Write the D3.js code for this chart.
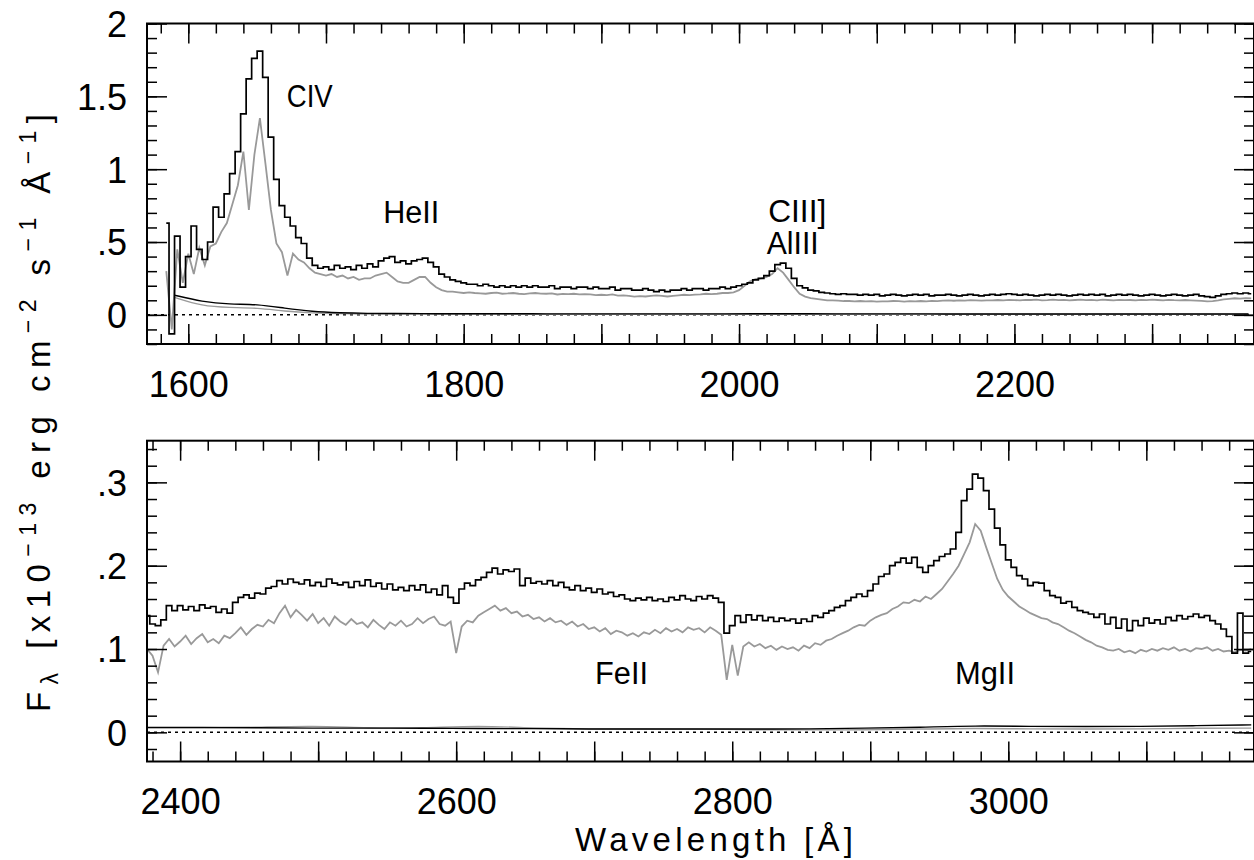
<!DOCTYPE html>
<html>
<head>
<meta charset="utf-8">
<script src="https://cdn.jsdelivr.net/npm/d3@7"></script>
<style>
  body { margin: 0; background: #fff; }
  svg { display: block; }
</style>
</head>
<body>
<svg id="chart" width="1254" height="860"></svg>
<script>
// spectra, flux in 1e-13 erg cm^-2 s^-1 A^-1, sampled every 4 A
const topStart = 1584, topStep = 4
const topBlack = [
  0.63, -0.13, 0.54, 0.19, 0.40, 0.61, 0.45, 0.38, 0.50, 0.74, 0.67, 0.83, 0.97, 1.12, 1.38, 1.62, 1.76, 1.81, 1.63, 1.22, 0.93, 0.75, 0.67, 0.61, 0.53,
  0.49, 0.39, 0.34, 0.32, 0.33, 0.31, 0.34, 0.32, 0.33, 0.31, 0.34, 0.32, 0.35, 0.33, 0.37, 0.39, 0.40, 0.36, 0.37, 0.35, 0.37, 0.38, 0.39, 0.36, 0.33,
  0.28, 0.26, 0.24, 0.23, 0.22, 0.21, 0.21, 0.20, 0.21, 0.20, 0.19, 0.20, 0.19, 0.20, 0.19, 0.20, 0.19, 0.20, 0.19, 0.19, 0.20, 0.18, 0.19, 0.19, 0.18,
  0.19, 0.19, 0.18, 0.19, 0.18, 0.18, 0.19, 0.17, 0.18, 0.18, 0.17, 0.17, 0.18, 0.17, 0.16, 0.17, 0.16, 0.17, 0.17, 0.18, 0.17, 0.18, 0.18, 0.17, 0.18,
  0.18, 0.19, 0.18, 0.19, 0.20, 0.21, 0.22, 0.24, 0.25, 0.27, 0.30, 0.345, 0.355, 0.32, 0.25, 0.20, 0.185, 0.17, 0.165, 0.155, 0.15, 0.145, 0.14, 0.145, 0.14,
  0.14, 0.135, 0.14, 0.135, 0.14, 0.13, 0.135, 0.14, 0.135, 0.13, 0.135, 0.14, 0.135, 0.14, 0.13, 0.135, 0.135, 0.14, 0.135, 0.13, 0.135, 0.14, 0.135, 0.13, 0.135,
  0.14, 0.135, 0.14, 0.145, 0.14, 0.135, 0.14, 0.135, 0.13, 0.135, 0.14, 0.135, 0.14, 0.135, 0.13, 0.135, 0.14, 0.135, 0.14, 0.135, 0.14, 0.13, 0.135, 0.14, 0.135,
  0.14, 0.135, 0.13, 0.135, 0.14, 0.135, 0.13, 0.135, 0.14, 0.135, 0.13, 0.135, 0.14, 0.13, 0.125, 0.12, 0.13, 0.14, 0.145, 0.15, 0.145, 0.15, 0.145
]
const topGrey = [
  0.30, -0.10, 0.45, 0.22, 0.42, 0.28, 0.46, 0.34, 0.47, 0.49, 0.57, 0.63, 0.76, 0.89, 1.12, 0.72, 1.10, 1.35, 1.04, 0.72, 0.49, 0.43, 0.27, 0.42, 0.38,
  0.36, 0.32, 0.29, 0.28, 0.27, 0.28, 0.26, 0.27, 0.25, 0.26, 0.24, 0.25, 0.25, 0.27, 0.28, 0.29, 0.26, 0.23, 0.22, 0.22, 0.24, 0.26, 0.26, 0.22, 0.19,
  0.17, 0.16, 0.16, 0.155, 0.15, 0.155, 0.15, 0.148, 0.145, 0.15, 0.152, 0.145, 0.147, 0.15, 0.145, 0.143, 0.147, 0.15, 0.146, 0.145, 0.148, 0.14, 0.144, 0.142, 0.145,
  0.14, 0.143, 0.141, 0.135, 0.138, 0.136, 0.14, 0.132, 0.134, 0.13, 0.125, 0.128, 0.126, 0.13, 0.134, 0.13, 0.126, 0.13, 0.134, 0.138, 0.135, 0.139, 0.141, 0.145, 0.142,
  0.145, 0.15, 0.15, 0.155, 0.17, 0.20, 0.23, 0.245, 0.25, 0.26, 0.28, 0.32, 0.29, 0.24, 0.19, 0.145, 0.125, 0.115, 0.11, 0.105, 0.10, 0.10, 0.098, 0.095, 0.095,
  0.093, 0.095, 0.092, 0.094, 0.091, 0.093, 0.092, 0.095, 0.094, 0.091, 0.094, 0.092, 0.095, 0.093, 0.096, 0.094, 0.098, 0.1, 0.097, 0.099, 0.098, 0.101, 0.1, 0.098, 0.1,
  0.1, 0.102, 0.1, 0.103, 0.101, 0.1, 0.103, 0.102, 0.104, 0.1, 0.101, 0.104, 0.101, 0.103, 0.1, 0.102, 0.104, 0.101, 0.103, 0.1, 0.104, 0.102, 0.1, 0.103, 0.101,
  0.102, 0.1, 0.103, 0.101, 0.104, 0.102, 0.1, 0.103, 0.101, 0.1, 0.102, 0.1, 0.098, 0.096, 0.092, 0.095, 0.1, 0.106, 0.11, 0.114, 0.112, 0.115, 0.113
]
// error spectra, every 20 A
const topErrStart = 1590, topErrStep = 20
const topErrBlack = [0.135, 0.09, 0.072, 0.074, 0.045, 0.022, 0.014, 0.01, 0.009, 0.008, 0.008, 0.008, 0.008, 0.007, 0.007, 0.007, 0.007, 0.007, 0.007, 0.007,
  0.007, 0.007, 0.008, 0.007, 0.007, 0.007, 0.007, 0.007, 0.006, 0.006, 0.006, 0.006, 0.006, 0.006, 0.006, 0.006, 0.006, 0.006, 0.006, 0.006]
const topErrGrey = [0.12, 0.06, 0.05, 0.048, 0.025, 0.012, 0.008, 0.006, 0.005, 0.005, 0.005, 0.005, 0.005, 0.004, 0.004, 0.004, 0.004, 0.004, 0.004, 0.004,
  0.004, 0.004, 0.005, 0.004, 0.004, 0.004, 0.004, 0.004, 0.004, 0.004, 0.004, 0.004, 0.004, 0.004, 0.004, 0.004, 0.004, 0.004, 0.004, 0.004]

const botStart = 2376, botStep = 4
const botBlack = [
  0.14, 0.13, 0.128, 0.135, 0.152, 0.146, 0.152, 0.147, 0.151, 0.146, 0.153, 0.149, 0.151, 0.144, 0.148, 0.143, 0.156, 0.162, 0.165, 0.161, 0.167, 0.166, 0.173, 0.175, 0.182,
  0.178, 0.184, 0.18, 0.178, 0.183, 0.176, 0.18, 0.175, 0.184, 0.179, 0.177, 0.18, 0.174, 0.181, 0.176, 0.183, 0.175, 0.179, 0.172, 0.178, 0.171, 0.174, 0.17, 0.176, 0.171,
  0.177, 0.168, 0.172, 0.165, 0.176, 0.162, 0.155, 0.172, 0.179, 0.176, 0.183, 0.186, 0.192, 0.197, 0.19, 0.195, 0.193, 0.196, 0.176, 0.185, 0.179, 0.181, 0.178, 0.182, 0.176,
  0.18, 0.174, 0.171, 0.176, 0.17, 0.173, 0.168, 0.172, 0.166, 0.168, 0.163, 0.165, 0.16, 0.158, 0.161, 0.159, 0.162, 0.158, 0.16, 0.157, 0.162, 0.159, 0.164, 0.16, 0.158,
  0.163, 0.16, 0.164, 0.161, 0.156, 0.119, 0.128, 0.14, 0.132, 0.141, 0.135, 0.14, 0.134, 0.138, 0.133, 0.137, 0.134, 0.136, 0.131, 0.136, 0.133, 0.14, 0.138, 0.143, 0.146,
  0.15, 0.152, 0.158, 0.162, 0.166, 0.163, 0.17, 0.178, 0.187, 0.19, 0.2, 0.204, 0.209, 0.203, 0.21, 0.198, 0.192, 0.2, 0.206, 0.211, 0.214, 0.22, 0.24, 0.278, 0.292,
  0.31, 0.305, 0.29, 0.268, 0.245, 0.225, 0.207, 0.198, 0.188, 0.184, 0.176, 0.18, 0.179, 0.17, 0.164, 0.162, 0.155, 0.157, 0.15, 0.146, 0.144, 0.142, 0.138, 0.142, 0.13,
  0.138, 0.125, 0.136, 0.122, 0.134, 0.128, 0.137, 0.131, 0.135, 0.13, 0.138, 0.134, 0.14, 0.136, 0.139, 0.142, 0.138, 0.14, 0.134, 0.13, 0.124, 0.115, 0.095, 0.143, 0.095, 0.097
]
const botGrey = [
  0.1, 0.092, 0.072, 0.104, 0.112, 0.103, 0.109, 0.116, 0.106, 0.113, 0.118, 0.108, 0.112, 0.107, 0.116, 0.113, 0.119, 0.126, 0.117, 0.124, 0.129, 0.127, 0.135, 0.131, 0.143,
  0.152, 0.138, 0.147, 0.141, 0.134, 0.142, 0.131, 0.137, 0.128, 0.139, 0.133, 0.129, 0.136, 0.13, 0.132, 0.126, 0.135, 0.129, 0.124, 0.132, 0.128, 0.134, 0.127, 0.13, 0.137,
  0.131, 0.136, 0.139, 0.13, 0.128, 0.133, 0.095, 0.127, 0.134, 0.132, 0.14, 0.144, 0.148, 0.152, 0.146, 0.149, 0.143, 0.145, 0.139, 0.141, 0.136, 0.138, 0.133, 0.137, 0.132,
  0.134, 0.129, 0.133, 0.127, 0.13, 0.124, 0.126, 0.121, 0.125, 0.118, 0.122, 0.12, 0.116, 0.119, 0.115, 0.12, 0.118, 0.123, 0.119, 0.125, 0.121, 0.124, 0.12, 0.126, 0.123,
  0.125, 0.12, 0.126, 0.122, 0.117, 0.063, 0.105, 0.068, 0.103, 0.108, 0.103, 0.106, 0.101, 0.104, 0.099, 0.103, 0.1, 0.102, 0.098, 0.104, 0.101, 0.107, 0.105, 0.11, 0.112,
  0.116, 0.119, 0.122, 0.126, 0.129, 0.128, 0.134, 0.138, 0.141, 0.143, 0.148, 0.151, 0.156, 0.155, 0.159, 0.157, 0.163, 0.16, 0.166, 0.172, 0.181, 0.19, 0.2, 0.214, 0.228,
  0.25, 0.242, 0.222, 0.203, 0.184, 0.171, 0.163, 0.157, 0.151, 0.147, 0.143, 0.14, 0.137, 0.136, 0.132, 0.13, 0.126, 0.122, 0.119, 0.115, 0.111, 0.108, 0.104, 0.102, 0.099,
  0.098, 0.1, 0.096, 0.098, 0.095, 0.099, 0.097, 0.1, 0.098, 0.101, 0.099, 0.102, 0.098, 0.1, 0.097, 0.101, 0.1, 0.102, 0.098, 0.1, 0.097, 0.098, 0.096, 0.099, 0.098, 0.1
]
const botErrStart = 2376, botErrStep = 40
const botErrBlack = [0.006, 0.006, 0.0055, 0.005, 0.005, 0.005, 0.0045, 0.0045, 0.004, 0.004, 0.004, 0.004, 0.004, 0.005, 0.006, 0.008, 0.007, 0.007, 0.007, 0.008, 0.009]
const botErrGrey = [0.005, 0.005, 0.006, 0.008, 0.005, 0.005, 0.008, 0.005, 0.004, 0.004, 0.004, 0.003, 0.003, 0.003, 0.004, 0.005, 0.004, 0.004, 0.004, 0.005, 0.005]

// line identifications: [label, wavelength, flux, text width]
const topLines = [['CIV', 1671.5, 1.425, 46], ['HeII', 1741.6, 0.629, 56], ['CIII]', 2021.2, 0.636, 58], ['AlIII', 2020.1, 0.42, 52]]
const botLines = [['FeII', 2700.6, 0.058, 53], ['MgII', 2961.4, 0.058, 60]]

const topXTicks = [1600, 1800, 2000, 2200]
const botXTicks = [2400, 2600, 2800, 3000]
const topYTicks = [0, 0.5, 1, 1.5, 2]
const botYTicks = [0, 0.1, 0.2, 0.3]

const svg = d3.select('#chart')
const plotLeft = 147, plotRight = 1254
const tickFont = 'Liberation Sans, Arial, sans-serif'
const yFmt = d => d === 0 ? '0' : String(+d.toFixed(2)).replace(/^0\./, '.')

function panel(p) {
  const x = d3.scaleLinear().domain(p.xDomain).range([plotLeft, plotRight])
  const y = d3.scaleLinear().domain(p.yDomain).range([p.bottom, p.top])
  const g = svg.append('g')

  svg.append('clipPath').attr('id', 'clip-' + p.id)
    .append('rect')
    .attr('x', plotLeft).attr('y', p.top)
    .attr('width', plotRight - plotLeft).attr('height', p.bottom - p.top)
  const plot = g.append('g').attr('clip-path', `url(#clip-${p.id})`)

  plot.append('line')
    .attr('x1', plotLeft).attr('x2', plotRight)
    .attr('y1', y(0)).attr('y2', y(0))
    .attr('stroke', '#000').attr('stroke-width', 1.5)
    .attr('stroke-dasharray', '3,4')

  const line = (start, step, curve) => d3.line()
    .x((d, i) => x(start + i * step))
    .y(d => y(d))
    .curve(curve)

  const series = [
    [p.errGrey, p.errStart, p.errStep, '#9a9a9a', 1.4, d3.curveBasis],
    [p.errBlack, p.errStart, p.errStep, '#000', 1.4, d3.curveBasis],
    [p.grey, p.start, p.step, '#999', 1.8, d3.curveLinear],
    [p.black, p.start, p.step, '#000', 1.7, d3.curveStep]
  ]
  series.forEach(([vals, start, step, color, w, curve]) => {
    plot.append('path')
      .attr('d', line(start, step, curve)(vals))
      .attr('fill', 'none')
      .attr('stroke', color)
      .attr('stroke-width', w)
      .attr('stroke-linejoin', 'miter')
  })

  // axes: minor and major ticks on all four sides
  const xMinor = d3.range(Math.ceil(p.xDomain[0] / 20), Math.floor(p.xDomain[1] / 20) + 1).map(i => i * 20)
  const xMajor = xMinor.filter(v => v % 100 === 0)
  const yMinor = d3.range(Math.ceil(p.yDomain[0] / p.yMinorStep - 1e-6), Math.floor(p.yDomain[1] / p.yMinorStep + 1e-6) + 1)
    .map(i => +(i * p.yMinorStep).toFixed(3))
  const yMajor = yMinor.filter(v => Math.abs(v / p.yMajorStep - Math.round(v / p.yMajorStep)) < 1e-6)

  const axes = [
    [d3.axisBottom(x).tickValues(xMinor).tickSize(-10), p.bottom, 'y'],
    [d3.axisBottom(x).tickValues(xMajor).tickSize(-20), p.bottom, 'y'],
    [d3.axisTop(x).tickValues(xMinor).tickSize(-10), p.top, 'y'],
    [d3.axisTop(x).tickValues(xMajor).tickSize(-20), p.top, 'y'],
    [d3.axisLeft(y).tickValues(yMinor).tickSize(-10), plotLeft, 'x'],
    [d3.axisLeft(y).tickValues(yMajor).tickSize(-20), plotLeft, 'x'],
    [d3.axisRight(y).tickValues(yMinor).tickSize(-10), plotRight, 'x'],
    [d3.axisRight(y).tickValues(yMajor).tickSize(-20), plotRight, 'x']
  ]
  axes.forEach(([ax, pos, dim]) => {
    const a = g.append('g')
      .attr('transform', dim === 'y' ? `translate(0,${pos})` : `translate(${pos},0)`)
      .call(ax.tickSizeOuter(0).tickFormat(''))
    a.select('.domain').remove()
    a.selectAll('line').attr('stroke', '#000').attr('stroke-width', 1.5)
  })

  // tick labels
  g.append('g')
    .attr('transform', `translate(0,${p.bottom})`)
    .call(d3.axisBottom(x).tickValues(p.xLabels).tickSize(0).tickPadding(27).tickFormat(d3.format('d')))
    .call(a => a.select('.domain').remove())
    .selectAll('text')
    .attr('font-family', tickFont).attr('font-size', 36).attr('fill', '#000')

  g.append('g')
    .attr('transform', `translate(${plotLeft},0)`)
    .call(d3.axisLeft(y).tickValues(p.yLabels).tickSize(0).tickPadding(20).tickFormat(yFmt))
    .call(a => a.select('.domain').remove())
    .selectAll('text')
    .attr('font-family', tickFont).attr('font-size', 36).attr('fill', '#000')
    .attr('dy', '0.36em')

  g.append('rect')
    .attr('x', plotLeft).attr('y', p.top)
    .attr('width', plotRight - plotLeft).attr('height', p.bottom - p.top)
    .attr('fill', 'none').attr('stroke', '#000').attr('stroke-width', 2)

  g.selectAll('text.ident')
    .data(p.idents)
    .enter().append('text')
    .attr('class', 'ident')
    .attr('x', d => x(d[1]))
    .attr('y', d => y(d[2]))
    .attr('textLength', d => d[3])
    .attr('lengthAdjust', 'spacingAndGlyphs')
    .attr('font-family', tickFont)
    .attr('font-size', 31)
    .attr('fill', '#000')
    .text(d => d[0])
}

panel({
  id: 'top', xDomain: [1570, 2374], yDomain: [-0.2, 2], top: 23.5, bottom: 344,
  yMinorStep: 0.1, yMajorStep: 0.5,
  start: topStart, step: topStep, black: topBlack, grey: topGrey,
  errStart: topErrStart, errStep: topErrStep, errBlack: topErrBlack, errGrey: topErrGrey,
  xLabels: topXTicks, yLabels: topYTicks, idents: topLines
})
panel({
  id: 'bot', xDomain: [2376, 3178], yDomain: [-0.035, 0.35], top: 440.7, bottom: 761.5,
  yMinorStep: 0.02, yMajorStep: 0.1,
  start: botStart, step: botStep, black: botBlack, grey: botGrey,
  errStart: botErrStart, errStep: botErrStep, errBlack: botErrBlack, errGrey: botErrGrey,
  xLabels: botXTicks, yLabels: botYTicks, idents: botLines
})

// axis titles
const titleFont = 'Liberation Sans, Arial, sans-serif'
svg.append('text')
  .attr('x', 714).attr('y', 851)
  .attr('text-anchor', 'middle')
  .attr('font-family', titleFont).attr('font-size', 33)
  .attr('textLength', 278).attr('lengthAdjust', 'spacing')
  .attr('fill', '#000')
  .text('Wavelength [Å]')

const yTitle = svg.append('text')
  .attr('transform', 'translate(50,413) rotate(-90)')
  .attr('text-anchor', 'middle')
  .attr('font-family', titleFont).attr('font-size', 33)
  .attr('textLength', 598).attr('lengthAdjust', 'spacing')
  .attr('fill', '#000')
const parts = [
  ['F', 0, 33], ['λ', 8, 23], [' [x10', -8, 33], ['−13', -14, 23], ['  erg  cm', 14, 33],
  ['−2', -14, 23], ['  s', 14, 33], ['−1', -14, 23], ['  Å', 14, 33], ['−1', -14, 23], [']', 14, 33]
]
parts.forEach(([t, dy, fs]) => {
  yTitle.append('tspan').attr('dy', dy).attr('font-size', fs).text(t)
})
</script>
</body>
</html>
